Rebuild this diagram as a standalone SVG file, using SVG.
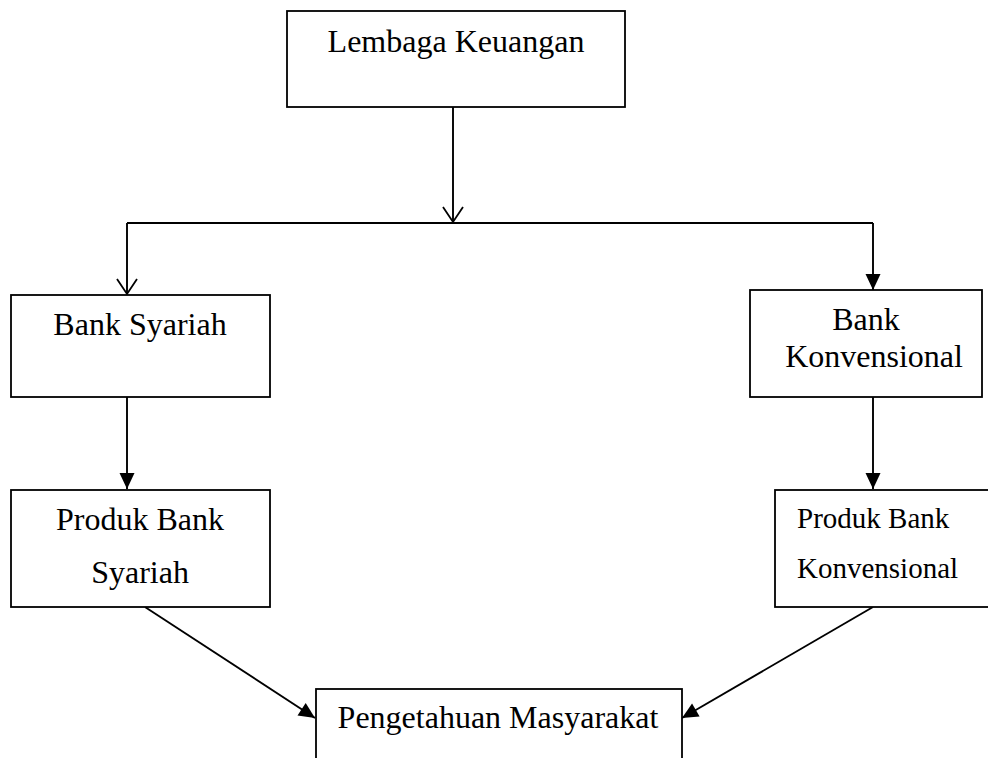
<svg xmlns="http://www.w3.org/2000/svg" width="988" height="758" viewBox="0 0 988 758">
<style>
.box{fill:#fff;stroke:#000;stroke-width:1.8}
.t{font-family:"Liberation Serif","Times New Roman",serif;font-size:32px;fill:#000}
.ts{font-family:"Liberation Serif","Times New Roman",serif;font-size:29px;fill:#000}
.c{text-anchor:middle}
.ln{fill:none;stroke:#000;stroke-width:1.9}
</style>
<defs>
<marker id="open" markerUnits="userSpaceOnUse" viewBox="0 0 16 22" refX="15" refY="11" markerWidth="16" markerHeight="22" orient="auto" overflow="visible">
<path d="M0,1 L15,11 L0,21" fill="none" stroke="#000" stroke-width="1.8"/>
</marker>
<marker id="fill" markerUnits="userSpaceOnUse" viewBox="0 0 16 16" refX="16" refY="8" markerWidth="16" markerHeight="16" orient="auto" overflow="visible">
<path d="M0,0.5 L16,8 L0,15.5 z" fill="#000"/>
</marker>
</defs>
<g id="connectors">
<path class="ln" d="M453,107 V222" marker-end="url(#open)"/>
<path class="ln" d="M127,223 H873"/>
<path class="ln" d="M127,223 V294" marker-end="url(#open)"/>
<path class="ln" d="M873,223 V290" marker-end="url(#fill)"/>
<path class="ln" d="M127,397 V489" marker-end="url(#fill)"/>
<path class="ln" d="M873,397 V489" marker-end="url(#fill)"/>
<path class="ln" d="M145,607 L315,718" marker-end="url(#fill)"/>
<path class="ln" d="M873,607 L682,718" marker-end="url(#fill)"/>
</g>
<g id="lembaga">
<rect class="box" x="287" y="11" width="338" height="96"/>
<text class="t c" x="456" y="52">Lembaga Keuangan</text>
</g>
<g id="bank-syariah">
<rect class="box" x="11" y="295" width="259" height="102"/>
<text class="t c" x="140" y="335">Bank Syariah</text>
</g>
<g id="bank-konvensional">
<rect class="box" x="750" y="290" width="232" height="107"/>
<text class="t c" x="866" y="330">Bank</text>
<text class="t c" x="874" y="367">Konvensional</text>
</g>
<g id="produk-syariah">
<rect class="box" x="11" y="490" width="259" height="117"/>
<text class="t c" x="140" y="530">Produk Bank</text>
<text class="t c" x="140" y="583">Syariah</text>
</g>
<g id="produk-konvensional">
<rect class="box" x="775" y="490" width="216" height="117"/>
<text class="ts" x="797" y="528">Produk Bank</text>
<text class="ts" x="797" y="578">Konvensional</text>
</g>
<g id="pengetahuan">
<rect class="box" x="316" y="689" width="366" height="80"/>
<text class="t c" x="498" y="728">Pengetahuan Masyarakat</text>
</g>
</svg>
